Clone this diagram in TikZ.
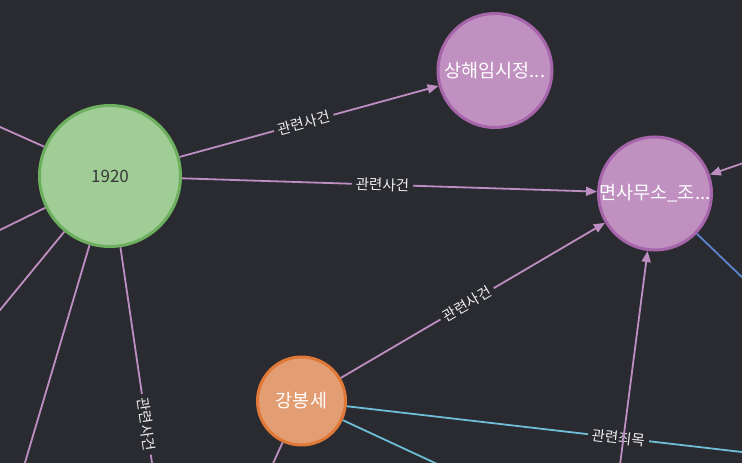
\documentclass[tikz,border=0pt]{standalone}
\usepackage{fontspec}
\setmainfont{Noto Sans CJK KR}
\usetikzlibrary{arrows.meta}
\definecolor{BgDark}{HTML}{2A2B30}
\definecolor{YearFill}{HTML}{A0CC96}
\definecolor{YearLine}{HTML}{6CAF5E}
\definecolor{EventFill}{HTML}{C090C0}
\definecolor{EventLine}{HTML}{A664AA}
\definecolor{PersonFill}{HTML}{E39D72}
\definecolor{PersonLine}{HTML}{E07838}
\definecolor{EdgePink}{HTML}{BE8EC2}
\definecolor{EdgeCyan}{HTML}{6EBED8}
\definecolor{EdgeBlue}{HTML}{5A84CC}
\definecolor{TagWhite}{HTML}{EEEEEE}

\begin{document}
\begin{tikzpicture}[x=1pt, y=-1pt,
        entity/.style={circle, line width=3pt, inner sep=0pt,
                    align=center, font=\fontsize{18.5}{22}\selectfont},
        rel/.style={draw=EdgePink, line width=1.8pt},
        arrowrel/.style={rel, -{Triangle[length=11pt, width=9pt]}},
        tag/.style={fill=BgDark, text=TagWhite, sloped, inner xsep=4pt,
                    inner ysep=1pt, font=\fontsize{14.5}{16}\selectfont}]

        \useasboundingbox[fill=BgDark] (0,0) rectangle (742,463);
        \clip (0,0) rectangle (742,463);

        % Nodes
        \node[entity, fill=YearFill, draw=YearLine, minimum size=141pt,
              text=black!78, font=\fontsize{17}{20}\selectfont] (yr) at (110,176) {1920};
        \node[entity, fill=EventFill, draw=EventLine, minimum size=114pt,
              text=white] (gov) at (495,70.5) {상해임시정...};
        \node[entity, fill=EventFill, draw=EventLine, minimum size=113pt,
              text=white] (office) at (655,193.5) {면사무소\_조...};
        \node[entity, fill=PersonFill, draw=PersonLine, minimum size=88pt,
              text=white] (kang) at (301.5,401) {강봉세};

        % Ends outside the frame
        \coordinate (w1) at (-50,104.7);
        \coordinate (w2) at (-50,254.5);
        \coordinate (w3) at (-50,371);
        \coordinate (s1) at (8,520);
        \coordinate (s2) at (175,620);
        \coordinate (s3) at (255,503);
        \coordinate (s4) at (560,521);
        \coordinate (s5) at (600,620);
        \coordinate (e1) at (900,470.3);
        \coordinate (e2) at (800,143.5);
        \coordinate (e3) at (800,333);

        % Edges from 1920
        \draw[rel] (yr) -- (w1);
        \draw[rel] (yr) -- (w2);
        \draw[rel] (yr) -- (w3);
        \draw[rel] (yr) -- (s1);
        \draw[rel] (yr) -- node[tag, pos=0.475] {관련사건} (s2);
        \draw[arrowrel] (yr) -- node[tag, pos=0.48] {관련사건} (gov);
        \draw[arrowrel] (yr) -- node[tag, pos=0.483] {관련사건} (office);

        % Edges from 강봉세
        \draw[arrowrel] (kang) -- node[tag, pos=0.478] {관련사건} (office);
        \draw[rel, draw=EdgeCyan] (kang) -- node[tag, pos=0.491] {관련죄목} (e1);
        \draw[rel, draw=EdgeCyan] (kang) -- (s4);
        \draw[rel] (kang) -- (s3);

        % Other edges at 면사무소
        \draw[arrowrel] (s5) -- (office);
        \draw[arrowrel] (e2) -- (office);
        \draw[rel, draw=EdgeBlue] (office) -- (e3);
      \end{tikzpicture}
\end{document}
